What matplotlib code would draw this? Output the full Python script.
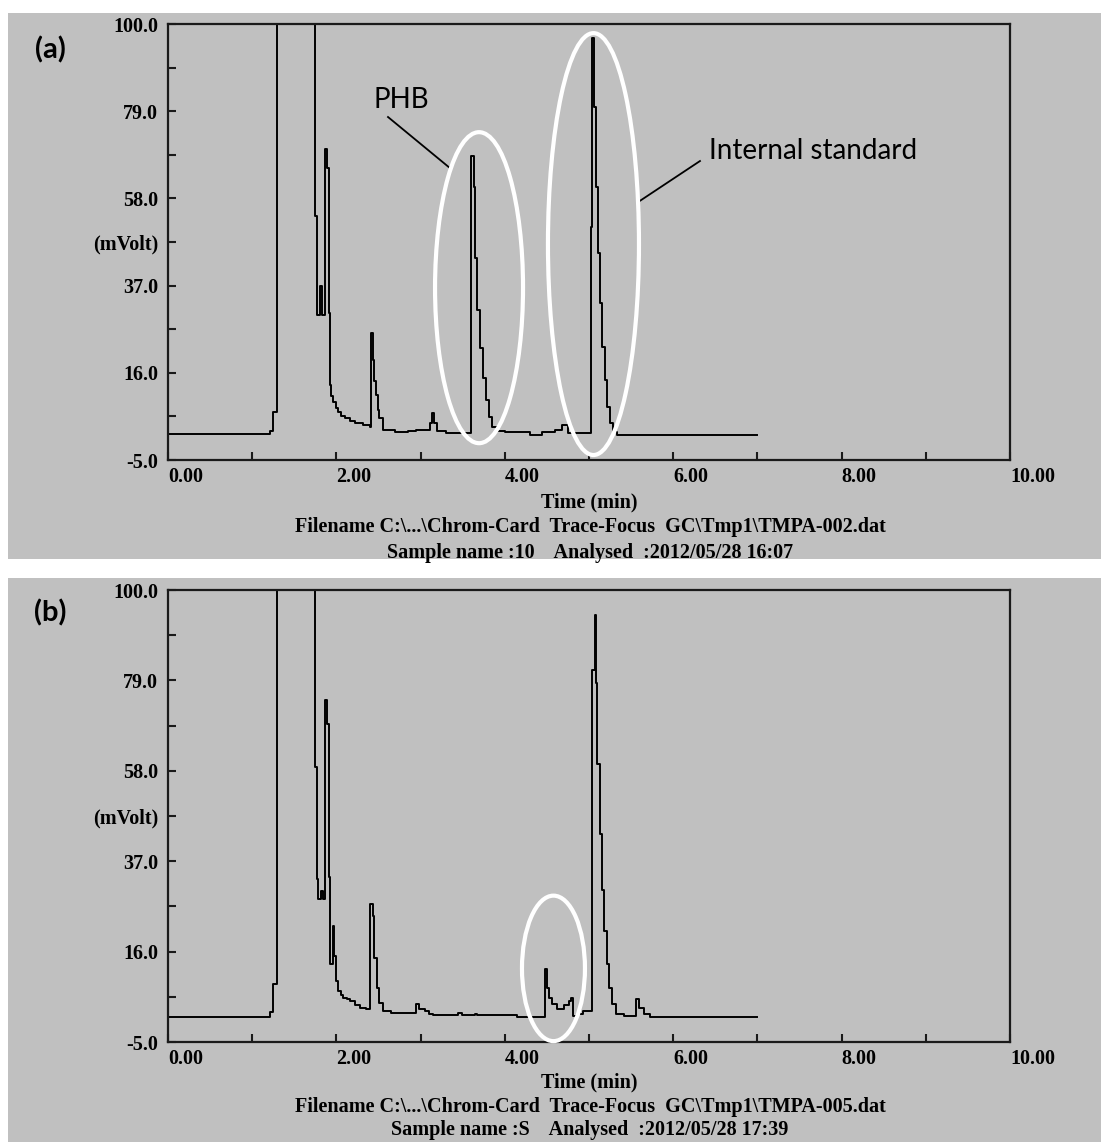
import matplotlib
matplotlib.use("Agg")
import matplotlib.pyplot as plt
from matplotlib.patches import Ellipse, Rectangle

# GC traces (time in min, signal in mV)
time_a = [0.00, 1.21, 1.25, 1.29, 1.74, 1.77, 1.81, 1.83, 1.87, 1.89, 1.91, 1.92,
          1.94, 1.96, 1.99, 2.02, 2.06, 2.10, 2.16, 2.22, 2.31, 2.40, 2.41, 2.43,
          2.45, 2.47, 2.49, 2.51, 2.55, 2.70, 2.85, 2.95, 3.11, 3.13, 3.16, 3.20,
          3.30, 3.60, 3.63, 3.65, 3.67, 3.71, 3.74, 3.78, 3.81, 3.85, 3.91, 4.00,
          4.30, 4.44, 4.60, 4.68, 4.75, 5.02, 5.04, 5.06, 5.08, 5.11, 5.13, 5.16,
          5.19, 5.21, 5.25, 5.29, 5.33, 7.00]
signal_a = [1.2, 2.0, 6.5, 100.0, 53.8, 29.9, 37.0, 30.0, 69.8, 65.3, 30.5, 13.1,
            10.5, 9.0, 7.5, 6.5, 5.6, 5.0, 4.3, 3.8, 3.4, 3.0, 25.5, 19.1,
            14.0, 10.6, 7.0, 5.0, 2.2, 1.8, 2.1, 2.3, 4.0, 6.3, 4.0, 2.0,
            1.6, 68.3, 60.7, 43.6, 31.1, 22.0, 14.7, 9.4, 5.4, 3.0, 2.0, 1.7,
            1.0, 1.7, 2.3, 3.4, 1.4, 51.2, 96.6, 80.1, 60.8, 44.8, 32.8, 22.2,
            14.3, 7.8, 3.9, 1.7, 1.0, 1.0]

time_b = [0.00, 1.21, 1.25, 1.29, 1.74, 1.77, 1.78, 1.82, 1.84, 1.87, 1.89, 1.91,
          1.92, 1.96, 1.97, 1.99, 2.02, 2.05, 2.08, 2.12, 2.16, 2.22, 2.28, 2.35,
          2.40, 2.43, 2.45, 2.48, 2.51, 2.55, 2.65, 2.95, 2.98, 3.05, 3.10, 3.15,
          3.44, 3.49, 3.65, 3.67, 4.15, 4.20, 4.27, 4.48, 4.50, 4.53, 4.56, 4.62,
          4.70, 4.76, 4.79, 4.81, 4.87, 4.93, 5.04, 5.07, 5.08, 5.10, 5.13, 5.16,
          5.18, 5.21, 5.24, 5.27, 5.32, 5.42, 5.56, 5.59, 5.65, 5.72, 7.00]
signal_b = [0.8, 2.0, 8.4, 100.0, 58.9, 32.9, 28.3, 30.0, 28.3, 74.4, 68.8, 33.3,
            13.1, 22.0, 15.0, 9.2, 6.9, 6.0, 5.3, 4.9, 4.5, 3.6, 3.0, 2.6,
            27.1, 24.3, 14.6, 7.6, 4.0, 2.2, 1.7, 3.8, 2.7, 2.2, 1.5, 1.2,
            1.8, 1.2, 1.6, 1.2, 0.7, 0.9, 0.7, 11.9, 7.6, 5.2, 3.8, 2.6,
            3.5, 4.6, 5.3, 1.0, 1.5, 2.2, 81.4, 94.2, 78.3, 59.6, 43.4, 30.2,
            20.8, 13.1, 7.6, 3.8, 1.5, 1.0, 4.9, 3.0, 1.5, 0.7, 0.7]

y_ticks = [-5.0, 5.5, 16.0, 26.5, 37.0, 47.5, 58.0, 68.5, 79.0, 89.5, 100.0]
y_labels = ['-5.0', '', '16.0', '', '37.0', '(mVolt)', '58.0', '', '79.0', '', '100.0']
x_ticks = list(range(0, 11))
x_labels = ['%.2f' % v if v % 2 == 0 else '' for v in x_ticks]

footer_a = ['Filename C:\\...\\Chrom-Card  Trace-Focus  GC\\Tmp1\\TMPA-002.dat',
            'Sample name :10    Analysed  :2012/05/28 16:07']
footer_b = ['Filename C:\\...\\Chrom-Card  Trace-Focus  GC\\Tmp1\\TMPA-005.dat',
            'Sample name :S    Analysed  :2012/05/28 17:39']

W, H = 1101, 1142
GRAY = '#c0c0c0'
SERIF = {'family': 'Liberation Serif', 'weight': 'bold', 'size': 14.5}

fig = plt.figure(figsize=(W / 100, H / 100), dpi=100)
fig.patch.set_facecolor('white')


def px(x, y):
    # pixel position (from top-left) -> figure fraction
    return x / W, 1 - y / H


# gray panel backgrounds
for top, bottom in [(13, 559), (578, 1142)]:
    fig.patches.append(Rectangle(px(8, bottom), (W - 8) / W, (bottom - top) / H,
                                 transform=fig.transFigure, facecolor=GRAY,
                                 edgecolor='none', zorder=-10))


def make_axes(top, bottom):
    ax = fig.add_axes([168 / W, 1 - bottom / H, 842 / W, (bottom - top) / H])
    ax.set_facecolor(GRAY)
    ax.set_xlim(0, 10)
    ax.set_ylim(-5, 100)
    for s in ax.spines.values():
        s.set_linewidth(1.6)
        s.set_color('#1a1a1a')
    ax.set_yticks(y_ticks)
    ax.set_yticklabels(y_labels, fontdict=SERIF)
    ax.set_xticks(x_ticks)
    ax.set_xticklabels(x_labels, fontdict=SERIF)
    for lbl in ax.get_xticklabels():
        lbl.set_ha('left')
    ax.tick_params(direction='in', length=6, width=1.5, color='#1a1a1a')
    ax.tick_params(axis='y', pad=7)
    ax.tick_params(axis='x', pad=5)
    return ax


def footer(bottom, lines, gap=26):
    fig.text(*px(589, bottom + 42), 'Time (min)', ha='center', va='center', **SERIF)
    for i, line in enumerate(lines):
        fig.text(*px(590, bottom + 67 + gap * i), line, ha='center', va='center', **SERIF)


# (a) sample with PHB
ax_a = make_axes(24, 460)
ax_a.plot(time_a, signal_a, drawstyle='steps-post', color='black', lw=1.4)
ax_a.add_patch(Ellipse((3.694, 36.5), 1.045, 74.9, fill=False, edgecolor='white',
                       lw=3, clip_on=False, zorder=5))
ax_a.add_patch(Ellipse((5.053, 47.0), 1.081, 101.6, fill=False, edgecolor='white',
                       lw=3, clip_on=False, zorder=5))
ax_a.plot([2.613, 3.349], [77.6, 65.3], color='black', lw=1.3)
ax_a.plot([6.318, 5.582], [67.0, 57.1], color='black', lw=1.3)
ax_a.text(2.767, 81.7, 'PHB', family='Lato', fontsize=20, ha='center', va='center')
ax_a.text(6.425, 69.4, 'Internal standard', family='Lato', fontsize=20,
          ha='left', va='center')
fig.text(*px(50, 50), '(a)', family='Lato', weight='bold', fontsize=21,
         ha='center', va='center')
footer(460, footer_a)

# (b) control sample
ax_b = make_axes(590, 1042)
ax_b.plot(time_b, signal_b, drawstyle='steps-post', color='black', lw=1.4)
ax_b.add_patch(Ellipse((4.578, 12.1), 0.748, 33.8, fill=False, edgecolor='white',
                       lw=3, clip_on=False, zorder=5))
fig.text(*px(50, 613), '(b)', family='Lato', weight='bold', fontsize=21,
         ha='center', va='center')
footer(1040, footer_b, gap=23)

fig.savefig('out.png', dpi=100, facecolor='white')
